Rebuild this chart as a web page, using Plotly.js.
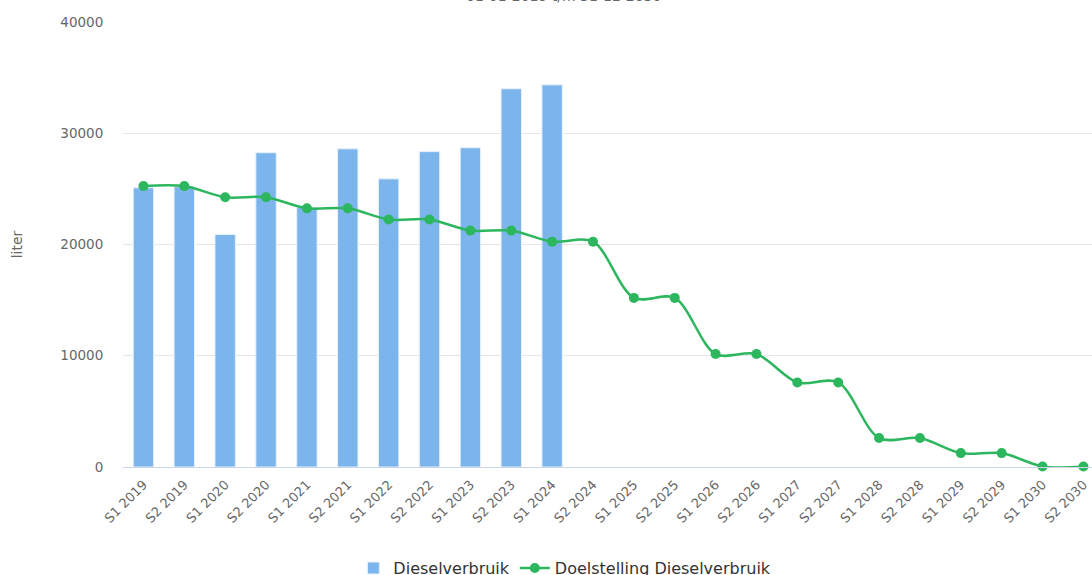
<!DOCTYPE html>
<html>
<head>
<meta charset="utf-8">
<script src="https://cdn.plot.ly/plotly-3.0.1.min.js"></script>
<style>html,body{margin:0;padding:0;background:#fff;}#chart{width:1092px;height:575px;}</style>
</head>
<body>
<div id="chart"></div>
<script>
var categories = ["S1 2019","S2 2019","S1 2020","S2 2020","S1 2021","S2 2021","S1 2022","S2 2022","S1 2023","S2 2023","S1 2024","S2 2024","S1 2025","S2 2025","S1 2026","S2 2026","S1 2027","S2 2027","S1 2028","S2 2028","S1 2029","S2 2029","S1 2030","S2 2030"];
var barCategories = categories.slice(0, 11);
var dieselverbruik = [25100, 25200, 20900, 28250, 23350, 28600, 25900, 28350, 28700, 34000, 34350];
var doelstelling = [25250, 25250, 24250, 24250, 23250, 23250, 22250, 22250, 21250, 21250, 20250, 20250, 15200, 15200, 10150, 10150, 7600, 7600, 2600, 2600, 1250, 1250, 50, 50];
var yTicks = [0, 10000, 20000, 30000, 40000];
var subtitleText = "01-01-2019 t/m 31-12-2030";

var traces = [
  {
    type: "bar",
    name: "Dieselverbruik",
    x: barCategories,
    y: dieselverbruik,
    width: 0.5,
    marker: {color: "#7cb5ec", line: {color: "#e8f1fb", width: 1}},
    hoverinfo: "x+y"
  },
  {
    type: "scatter",
    mode: "lines+markers",
    name: "Doelstelling Dieselverbruik",
    x: categories,
    y: doelstelling,
    line: {color: "#2cb65e", width: 2.5, shape: "spline", smoothing: 0.9},
    marker: {color: "#2cb65e", size: 10},
    cliponaxis: false
  }
];

var font = "DejaVu Sans, Verdana, sans-serif";
var layout = {
  width: 1092,
  height: 575,
  margin: {l: 123, r: 0, t: 22, b: 108, pad: 0},
  paper_bgcolor: "#ffffff",
  plot_bgcolor: "#ffffff",
  font: {family: font, color: "#666666", size: 13},
  showlegend: true,
  bargap: 0.5,
  xaxis: {
    type: "category",
    categoryorder: "array",
    categoryarray: categories,
    range: [-0.5, 23.21],
    tickangle: -45,
    automargin: false,
    showgrid: false,
    showline: true,
    linecolor: "#ccd6eb",
    linewidth: 1,
    ticks: "outside",
    ticklen: 4,
    tickcolor: "rgba(0,0,0,0)",
    tickfont: {family: font, size: 13, color: "#666666"},
    zeroline: false
  },
  yaxis: {
    range: [0, 40000],
    tickvals: yTicks,
    ticktext: yTicks.map(String),
    automargin: false,
    showgrid: true,
    gridcolor: "#e6e6e6",
    gridwidth: 1,
    zeroline: false,
    showline: false,
    ticks: "outside",
    ticklen: 16,
    tickcolor: "rgba(0,0,0,0)",
    tickfont: {family: font, size: 13.5, color: "#666666"},
    title: {text: "liter", font: {family: font, size: 14, color: "#666666"}, standoff: 34}
  },
  legend: {
    orientation: "h",
    xref: "paper",
    x: 0.456,
    xanchor: "center",
    yref: "container",
    y: 0.012,
    yanchor: "middle",
    font: {family: font, size: 16, color: "#333333"},
    bgcolor: "rgba(0,0,0,0)"
  },
  annotations: [
    {
      text: subtitleText,
      xref: "paper",
      yref: "paper",
      x: 0.455,
      xanchor: "center",
      y: 1.058,
      yanchor: "middle",
      showarrow: false,
      font: {family: font, size: 14, color: "#666666"}
    }
  ]
};

Plotly.newPlot("chart", traces, layout, {displayModeBar: false, responsive: false});
</script>
</body>
</html>
